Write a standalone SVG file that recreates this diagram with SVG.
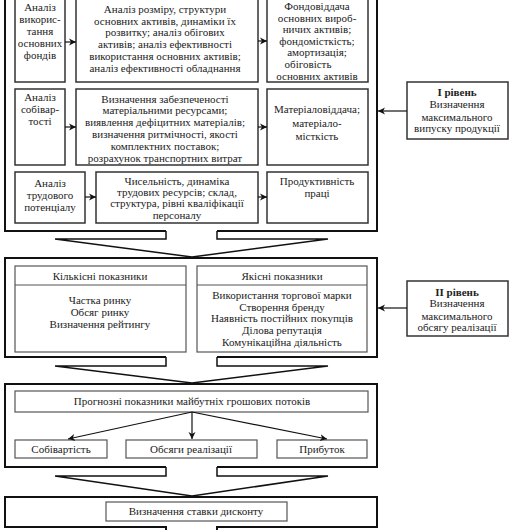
<svg xmlns="http://www.w3.org/2000/svg" width="509" height="530" viewBox="0 0 509 530">
<defs>
<marker id="ah" markerWidth="8" markerHeight="8" refX="7" refY="4" orient="auto" markerUnits="userSpaceOnUse">
<path d="M0,0.5 L7,4 L0,7.5 L2,4 Z" fill="#111"/>
</marker>
<style>
text{font-family:"Liberation Serif","Times New Roman",serif;font-size:11px;fill:#222;text-anchor:middle}
.b{font-weight:bold}
.outer{fill:none;stroke:#111;stroke-width:2}
.box{fill:#fff;stroke:#333;stroke-width:1.5}
.thin{fill:#fff;stroke:#555;stroke-width:1.2}
.con{fill:none;stroke:#111;stroke-width:1.2}
.big{fill:none;stroke:#111;stroke-width:1.5}
</style>
</defs>
<rect width="509" height="530" fill="#fff"/>

<g id="section1">
<path class="outer" d="M166,231 H5 V-5 H377 V231 H217"/>
</g>
<g id="n-fond-an">
<rect class="box" x="15" y="-5" width="50" height="87"/>
<text x="40" y="11">Аналіз</text>
<text x="40" y="23">викорис-</text>
<text x="40" y="35">тання</text>
<text x="40" y="47">основних</text>
<text x="40" y="59">фондів</text>
</g>
<g id="n-fond-mid">
<rect class="box" x="76" y="-5" width="182" height="87"/>
<text x="165" y="13">Аналіз розміру, структури</text>
<text x="165" y="25">основних активів, динаміки їх</text>
<text x="165" y="36">розвитку; аналіз обігових</text>
<text x="165" y="48">активів; аналіз ефективності</text>
<text x="165" y="60">використання основних активів;</text>
<text x="165" y="72">аналіз ефективності обладнання</text>
</g>
<g id="n-fond-res">
<rect class="box" x="267" y="-5" width="101" height="87"/>
<text x="317" y="10">Фондовіддача</text>
<text x="317" y="22">основних вироб-</text>
<text x="317" y="33">ничих активів;</text>
<text x="317" y="45">фондомісткість;</text>
<text x="317" y="56">амортизація;</text>
<text x="308" y="68">обіговість</text>
<text x="317" y="80">основних активів</text>
</g>
<g id="n-sob-an">
<rect class="box" x="15" y="89" width="50" height="76"/>
<text x="40" y="101">Аналіз</text>
<text x="40" y="113">собівар-</text>
<text x="40" y="125">тості</text>
</g>
<g id="n-sob-mid">
<rect class="box" x="76" y="89" width="182" height="76"/>
<text x="165" y="103">Визначення забезпеченості</text>
<text x="165" y="114">матеріальними ресурсами;</text>
<text x="165" y="126">виявлення дефіцитних матеріалів;</text>
<text x="165" y="138">визначення ритмічності, якості</text>
<text x="165" y="150">комплектних поставок;</text>
<text x="165" y="162">розрахунок транспортних витрат</text>
</g>
<g id="n-sob-res">
<rect class="box" x="267" y="89" width="101" height="76"/>
<text x="317" y="113">Матеріаловіддача;</text>
<text x="317" y="127">матеріало-</text>
<text x="317" y="140">місткість</text>
</g>
<g id="n-trud-an">
<rect class="box" x="15" y="172" width="70" height="51"/>
<text x="50" y="187">Аналіз</text>
<text x="50" y="199">трудового</text>
<text x="50" y="211">потенціалу</text>
</g>
<g id="n-trud-mid">
<rect class="box" x="96" y="172" width="162" height="51"/>
<text x="177" y="185">Чисельність, динаміка</text>
<text x="177" y="196">трудових ресурсів; склад,</text>
<text x="177" y="207">структура, рівні кваліфікації</text>
<text x="177" y="219">персоналу</text>
</g>
<g id="n-trud-res">
<rect class="box" x="267" y="172" width="101" height="51"/>
<text x="317" y="185">Продуктивність</text>
<text x="317" y="197">праці</text>
</g>
<g id="n-level1">
<rect class="box" x="407" y="82" width="101" height="57"/>
<text class="b" x="457" y="96">I рівень</text>
<text x="457" y="108">Визначення</text>
<text x="457" y="121">максимального</text>
<text x="457" y="132">випуску продукції</text>
</g>

<g id="section2">
<path class="outer" d="M166,357 H5 V258 H377 V357 H217"/>
</g>
<g id="n-kilk">
<rect class="thin" x="15" y="266" width="171" height="86"/>
<line x1="15" y1="285" x2="186" y2="285" stroke="#555" stroke-width="1.2"/>
<text x="100" y="280">Кількісні показники</text>
<text x="100" y="304">Частка ринку</text>
<text x="100" y="316">Обсяг ринку</text>
<text x="100" y="328">Визначення рейтингу</text>
</g>
<g id="n-yakis">
<rect class="thin" x="197" y="266" width="170" height="86"/>
<line x1="197" y1="285" x2="367" y2="285" stroke="#555" stroke-width="1.2"/>
<text x="282" y="280">Якісні показники</text>
<text x="282" y="299">Використання торгової марки</text>
<text x="282" y="311">Створення бренду</text>
<text x="282" y="322">Наявність постійних покупців</text>
<text x="282" y="334">Ділова репутація</text>
<text x="282" y="346">Комунікаційна діяльність</text>
</g>
<g id="n-level2">
<rect class="box" x="407" y="281" width="101" height="55"/>
<text class="b" x="457" y="296">II рівень</text>
<text x="457" y="307">Визначення</text>
<text x="457" y="320">максимального</text>
<text x="457" y="331">обсягу реалізації</text>
</g>

<g id="section3">
<path class="outer" d="M166,467 H5 V384 H377 V467 H217"/>
</g>
<g id="n-prognoz">
<rect class="thin" x="15" y="391" width="353" height="21"/>
<text x="192" y="405">Прогнозні показники майбутніх грошових потоків</text>
</g>
<g id="n-sobivart">
<rect class="thin" x="15" y="440" width="92" height="18"/>
<text x="61" y="453">Собівартість</text>
</g>
<g id="n-obsyagy">
<rect class="thin" x="126" y="440" width="131" height="18"/>
<text x="191" y="453">Обсяги реалізації</text>
</g>
<g id="n-prybutok">
<rect class="thin" x="277" y="440" width="90" height="18"/>
<text x="322" y="453">Прибуток</text>
</g>

<g id="section4">
<path class="outer" d="M166,535 V527 H5 V497 H377 V527 H217 V535"/>
</g>
<g id="n-dyskont">
<rect class="thin" x="106" y="502" width="181" height="19"/>
<text x="196" y="515">Визначення ставки дисконту</text>
</g>

<g id="connectors">
<line class="con" x1="65" y1="42" x2="76" y2="42" marker-end="url(#ah)"/>
<line class="con" x1="258" y1="41" x2="267" y2="41" marker-end="url(#ah)"/>
<line class="con" x1="65" y1="127" x2="76" y2="127" marker-end="url(#ah)"/>
<line class="con" x1="258" y1="127" x2="267" y2="127" marker-end="url(#ah)"/>
<line class="con" x1="85" y1="197" x2="96" y2="197" marker-end="url(#ah)"/>
<line class="con" x1="258" y1="197" x2="267" y2="197" marker-end="url(#ah)"/>
<line class="con" x1="407" y1="111" x2="378" y2="111" marker-end="url(#ah)"/>
<line class="con" x1="407" y1="308" x2="378" y2="308" marker-end="url(#ah)"/>
<line class="con" x1="192" y1="412" x2="68" y2="439" marker-end="url(#ah)"/>
<line class="con" x1="192" y1="412" x2="192" y2="439" marker-end="url(#ah)"/>
<line class="con" x1="192" y1="412" x2="327" y2="439" marker-end="url(#ah)"/>
<path class="big" d="M166,231 V239 H55 L192,257 L328,239 H217 V231"/>
<path class="big" d="M166,357 V366 H55 L192,383 L328,366 H217 V357"/>
<path class="big" d="M166,467 V476 H55 L192,496 L328,476 H217 V467"/>
</g>
</svg>
